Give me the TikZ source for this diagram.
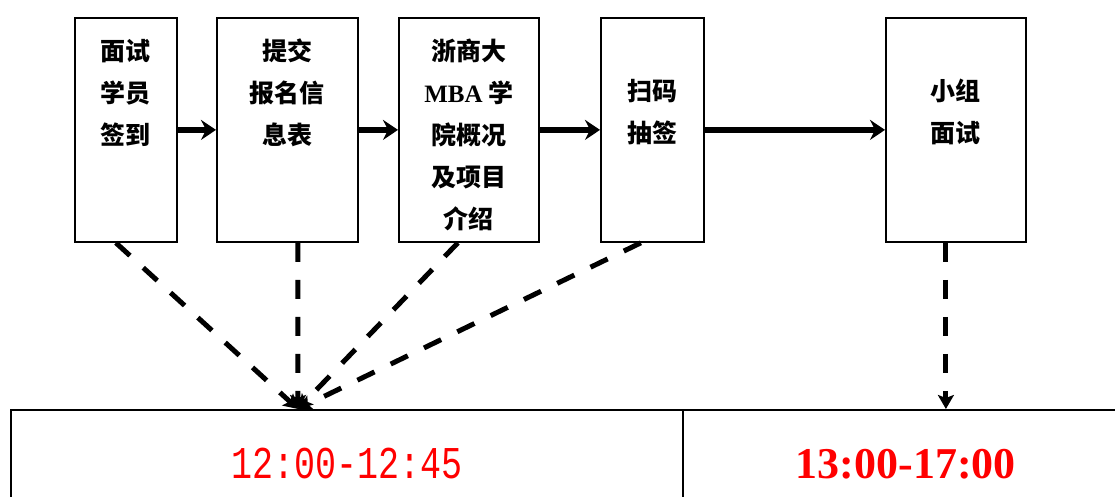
\documentclass[tikz,border=0pt]{standalone}
\usepackage{fontspec}
\usepackage{graphicx}
\setmainfont{Liberation Serif}
\newfontfamily\cjk{Noto Sans CJK SC}
\newfontfamily\timesfont{Liberation Serif}
\newfontfamily\monofont{Liberation Mono}
\usetikzlibrary{arrows.meta}
\begin{document}
\begin{tikzpicture}[x=1pt,y=-1pt,
  box/.style={draw=black, line width=1.8pt, fill=white, inner sep=0pt, anchor=north west, minimum height=224pt},
  txt/.style={anchor=north, inner sep=0pt, align=center, font=\cjk\bfseries\fontsize{25}{42}\selectfont},
  arr/.style={line width=5.5pt, -{Stealth[length=15pt,width=20pt,inset=5pt]}},
  darr/.style={line width=5pt, dash pattern=on 19pt off 18pt, -{Stealth[length=14pt,width=16pt,inset=3pt]}},
  cell/.style={draw=black, line width=1.8pt, inner sep=0pt, anchor=north west, minimum height=108pt}
]
\useasboundingbox (0,0) rectangle (1115,497);
\clip (0,0) rectangle (1115,497);
\fill[white] (0,0) rectangle (1115,497);

% boxes
\node[box, minimum width=102pt] (b1) at (74,17) {};
\node[box, minimum width=141pt] (b2) at (216,17) {};
\node[box, minimum width=140pt] (b3) at (398,17) {};
\node[box, minimum width=103pt] (b4) at (600,17) {};
\node[box, minimum width=140pt] (b5) at (885,17) {};

% texts
\node[txt] (t1) at ([yshift=-14.1pt]b1.north) {\strut 面试\\\strut 学员\\\strut 签到};
\node[txt] (t2) at ([yshift=-14.1pt]b2.north) {\strut 提交\\\strut 报名信\\\strut 息表};
\node[txt] (t3) at ([yshift=-14.1pt]b3.north) {\strut 浙商大\\\strut {\timesfont\bfseries MBA} 学\\\strut 院概况\\\strut 及项目\\\strut 介绍};
\node[txt] (t4) at ([yshift=-53.6pt]b4.north) {\strut 扫码\\\strut 抽签};
\node[txt] (t5) at ([yshift=-53.6pt]b5.north) {\strut 小组\\\strut 面试};

% bottom cells
\node[cell, minimum width=672pt] (c1) at (10,409) {\textcolor{red}{\scalebox{1}[1.3]{\monofont\fontsize{35}{40}\selectfont 12:00-12:45}}};
\node[cell, minimum width=446pt] (c2) at (682,409) {\textcolor{red}{\timesfont\bfseries\fontsize{44}{50}\selectfont 13:00-17:00}};

% solid arrows
\draw[arr] (b1.east) -- (b2.west);
\draw[arr] (b2.east) -- (b3.west);
\draw[arr] (b3.east) -- (b4.west);
\draw[arr] (b4.east) -- (b5.west);

% dashed arrows
\coordinate (conv) at (298,409);
\draw[darr] ([xshift=-10pt]b1.south) -- (conv);
\draw[darr] ([xshift=10.5pt]b2.south) -- (conv);
\draw[darr] ([xshift=-11pt]b3.south) -- (conv);
\draw[darr] ([xshift=-11.5pt]b4.south) -- (conv);
\draw[darr] ([xshift=-10pt]b5.south) -- ([xshift=-10pt]b5.south |- c2.north);
\end{tikzpicture}
\end{document}
